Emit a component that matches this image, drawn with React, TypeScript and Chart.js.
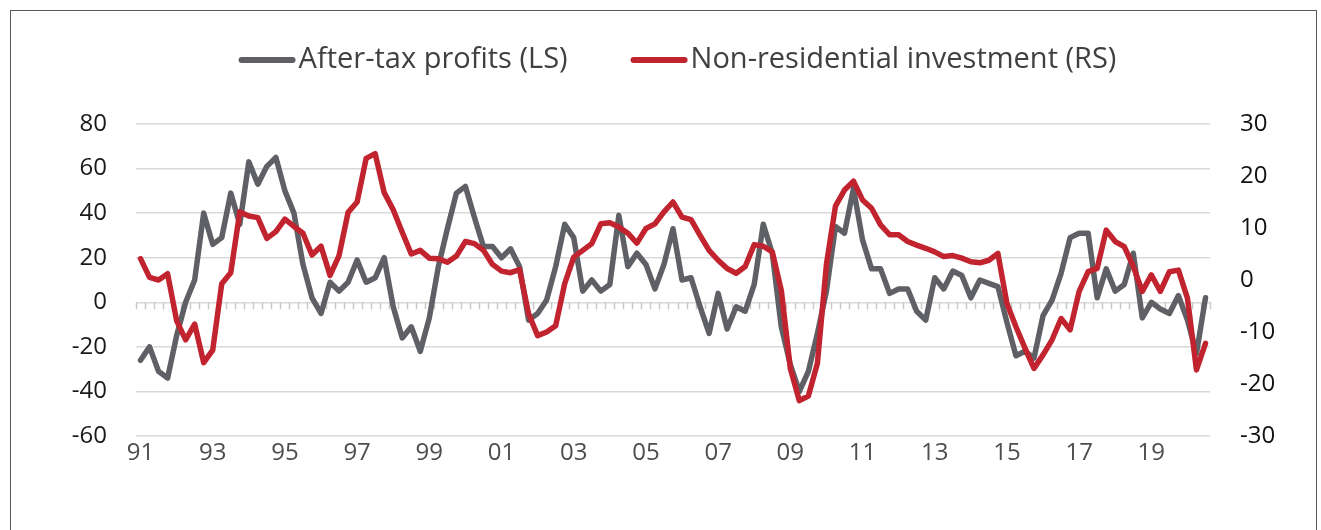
import React, { useEffect, useRef } from "react";
import { Chart, registerables } from "chart.js";

Chart.register(...registerables);

// Quarterly categories, 1991 Q1 onwards (119 quarters)
const startYear = 1991;
const quarterCount = 119;
const categories: string[] = [];
for (let y = startYear; categories.length < quarterCount; y++) {
  for (let q = 1; q <= 4 && categories.length < quarterCount; q++) {
    categories.push(`${y} Q${q}`);
  }
}

// Tick labels shown every 8 quarters (every two years)
const xTickLabels = ["91", "93", "95", "97", "99", "01", "03", "05", "07", "09", "11", "13", "15", "17", "19"];

// After-tax profits, % y/y (left scale)
const afterTaxProfits = [
  -26, -20, -31, -34, -15, 0, 10, 40, 26, 29,
  49, 35, 63, 53, 61, 65, 50, 40, 17, 2,
  -5, 9, 5, 9, 19, 9, 11, 20, -2, -16,
  -11, -22, -7, 16, 33, 49, 52, 38, 25, 25,
  20, 24, 16, -8, -5, 1, 16, 35, 29, 5,
  10, 5, 8, 39, 16, 22, 17, 6, 17, 33,
  10, 11, -2, -14, 4, -12, -2, -4, 8, 35,
  22, -11, -28, -40, -31, -14, 5, 34, 31, 51,
  28, 15, 15, 4, 6, 6, -4, -8, 11, 6,
  14, 12, 2, 10, 8.5, 7, -9, -24, -22, -25,
  -6, 1, 13, 29, 31, 31, 2, 15, 5, 8,
  22, -7, 0, -3, -5, 3, -8, -23, 2,
];

// Non-residential investment, % y/y (right scale)
const nonResInvestment = [
  4.1, 0.5, 0, 1.2, -7.8, -11.5, -8.5, -15.9, -13.5, -0.7,
  1.4, 13.1, 12.3, 12, 8, 9.3, 11.7, 10.3, 9, 4.8,
  6.5, 0.9, 4.7, 13, 15, 23.4, 24.3, 16.8, 13.5, 9.2,
  5, 5.7, 4.2, 4.1, 3.4, 4.6, 7.4, 7, 5.7, 3,
  1.7, 1.4, 2, -6.5, -10.7, -10, -8.8, -0.7, 4.4, 5.7,
  7, 10.8, 11, 10.2, 9, 7.1, 9.9, 10.8, 13.1, 15,
  12.1, 11.6, 8.6, 5.7, 3.8, 2.2, 1.3, 2.6, 6.8, 6.5,
  5.4, -2, -17, -23.2, -22.3, -16, 3, 14.2, 17.3, 19,
  15.4, 13.8, 10.6, 8.7, 8.7, 7.4, 6.7, 6.1, 5.4, 4.5,
  4.7, 4.2, 3.5, 3.3, 3.8, 5.1, -4.5, -9, -13.1, -17,
  -14.4, -11.5, -7.4, -9.6, -2.2, 1.6, 2.25, 9.6, 7.4, 6.4,
  2.6, -2.2, 1, -2.2, 1.6, 1.9, -3.5, -17.3, -12.2,
];

const leftTicks = { min: -60, max: 80, step: 20 };
const rightTicks = { min: -30, max: 30, step: 10 };

const seriesNames = ["After-tax profits (LS)", "Non-residential investment (RS)"];
const GRAY = "#5f6065";
const RED = "#c1232f";
const FONT = "'Open Sans', 'Noto Sans', sans-serif";

const W = 1321;
const H = 530;

const zeroTicksPlugin = {
  id: "zeroTicks",
  beforeDatasetsDraw(chart: any) {
    const xs = chart.scales.x;
    const ys = chart.scales.y;
    const y0 = ys.getPixelForValue(0);
    const n = chart.data.labels.length;
    const step = xs.getPixelForValue(1) - xs.getPixelForValue(0);
    const ctx = chart.ctx;
    ctx.save();
    ctx.strokeStyle = "#c9c9c9";
    ctx.lineWidth = 1.5;
    ctx.beginPath();
    for (let i = 0; i <= n; i++) {
      const x = Math.round(xs.getPixelForValue(0) - step / 2 + i * step) + 0.5;
      ctx.moveTo(x, y0);
      ctx.lineTo(x, y0 + 7);
    }
    ctx.stroke();
    ctx.restore();
  },
};

const legendPlugin = {
  id: "customLegend",
  afterDraw(chart: any) {
    const ctx = chart.ctx;
    ctx.save();
    ctx.font = `29px ${FONT}`;
    ctx.textBaseline = "middle";
    const sample = 57;
    const gapText = 3;
    const gapItem = 63;
    const w1 = ctx.measureText(seriesNames[0]).width;
    const w2 = ctx.measureText(seriesNames[1]).width;
    const total = sample + gapText + w1 + gapItem + sample + gapText + w2;
    let x = 677.5 - total / 2;
    const y = 60;
    const colors = [GRAY, RED];
    const widths = [w1, w2];
    for (let k = 0; k < 2; k++) {
      ctx.strokeStyle = colors[k];
      ctx.lineWidth = 6;
      ctx.lineCap = "round";
      ctx.beginPath();
      ctx.moveTo(x + 3, y);
      ctx.lineTo(x + sample - 3, y);
      ctx.stroke();
      x += sample + gapText;
      ctx.fillStyle = "#404040";
      ctx.fillText(seriesNames[k], x, y);
      x += widths[k] + gapItem;
    }
    ctx.restore();
  },
};

export default function App() {
  const canvasRef = useRef<HTMLCanvasElement | null>(null);

  useEffect(() => {
    document.body.style.margin = "0";
    const canvas = canvasRef.current;
    if (!canvas) return;
    const chart = new Chart(canvas, {
      type: "line",
      data: {
        labels: categories,
        datasets: [
          {
            label: seriesNames[0],
            data: afterTaxProfits,
            yAxisID: "y",
            borderColor: GRAY,
            backgroundColor: GRAY,
            borderWidth: 5.5,
            pointRadius: 0,
            tension: 0,
            borderJoinStyle: "round",
            borderCapStyle: "round",
            order: 1,
          },
          {
            label: seriesNames[1],
            data: nonResInvestment,
            yAxisID: "y1",
            borderColor: RED,
            backgroundColor: RED,
            borderWidth: 5.5,
            pointRadius: 0,
            tension: 0,
            borderJoinStyle: "round",
            borderCapStyle: "round",
            order: 0,
          },
        ],
      },
      options: {
        responsive: false,
        animation: false,
        devicePixelRatio: 1,
        layout: { padding: { top: 124, left: 0, right: 0, bottom: 0 } },
        plugins: {
          legend: { display: false },
          tooltip: { enabled: false },
        },
        scales: {
          x: {
            type: "category",
            offset: true,
            grid: { display: false, drawTicks: false },
            border: { display: false },
            ticks: {
              autoSkip: false,
              maxRotation: 0,
              minRotation: 0,
              padding: 3,
              color: "#4d4d4d",
              font: { family: FONT, size: 24 },
              callback: (_v: any, idx: number) => (idx % 8 === 0 ? xTickLabels[idx / 8] ?? "" : ""),
            },
            afterFit: (s: any) => {
              s.height = 94;
            },
          },
          y: {
            position: "left",
            min: leftTicks.min,
            max: leftTicks.max,
            ticks: {
              stepSize: leftTicks.step,
              padding: 29,
              color: "#1a1a1a",
              font: { family: FONT, size: 24 },
            },
            grid: { color: "#d9d9d9", lineWidth: 1.5, drawTicks: false },
            border: { display: false },
            afterFit: (s: any) => {
              s.width = 136;
            },
          },
          y1: {
            position: "right",
            min: rightTicks.min,
            max: rightTicks.max,
            ticks: {
              stepSize: rightTicks.step,
              padding: 30,
              color: "#111111",
              font: { family: FONT, size: 24 },
            },
            grid: { drawOnChartArea: false, drawTicks: false },
            border: { display: false },
            afterFit: (s: any) => {
              s.width = 111;
            },
          },
        },
      },
      plugins: [zeroTicksPlugin, legendPlugin],
    } as any);
    return () => chart.destroy();
  }, []);

  return (
    <div style={{ position: "relative", width: W, height: H, overflow: "hidden", background: "#ffffff" }}>
      <div
        style={{
          position: "absolute",
          left: 10,
          top: 10,
          width: 1307,
          height: 600,
          border: "1px solid #5a5a5a",
          boxSizing: "border-box",
        }}
      />
      <canvas
        ref={canvasRef}
        width={W}
        height={H}
        style={{ position: "absolute", left: 0, top: 0, width: W, height: H, display: "block" }}
      />
    </div>
  );
}
